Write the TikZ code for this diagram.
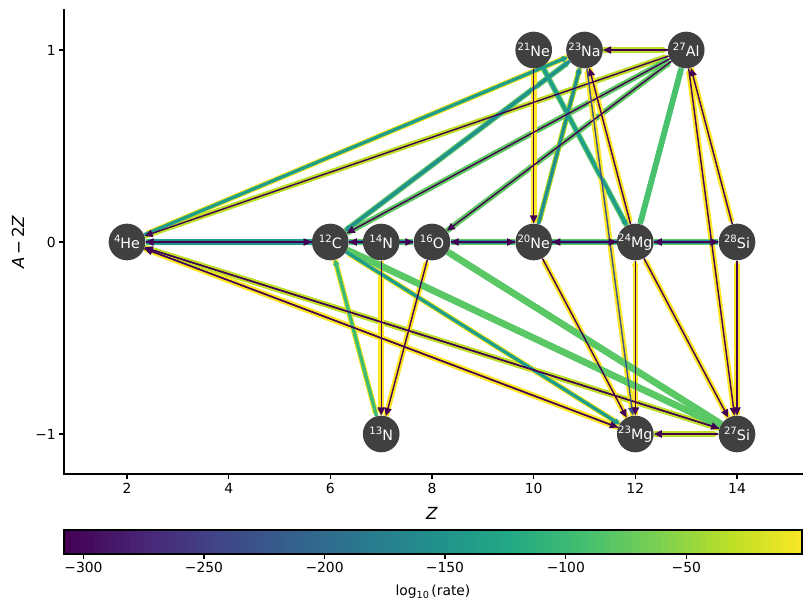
\documentclass[tikz,border=0pt]{standalone}
\usepackage{fontspec}
\setmainfont{DejaVu Sans}
\usetikzlibrary{arrows.meta}
\definecolor{cP}{HTML}{440154}
\definecolor{cB}{HTML}{3B528B}
\definecolor{cT}{HTML}{21918C}
\definecolor{cTT}{HTML}{1F9E89}
\definecolor{cG}{HTML}{5EC962}
\definecolor{cGK}{HTML}{5AC864}
\definecolor{cGA}{HTML}{4AC16D}
\definecolor{cGN}{HTML}{3DBC74}
\definecolor{cYG}{HTML}{BDDF26}
\definecolor{cY}{HTML}{FDE725}
\definecolor{nodegray}{HTML}{404040}
\definecolor{v0}{HTML}{440154}
\definecolor{v1}{HTML}{482475}
\definecolor{v2}{HTML}{414487}
\definecolor{v3}{HTML}{355F8D}
\definecolor{v4}{HTML}{2A788E}
\definecolor{v5}{HTML}{21918C}
\definecolor{v6}{HTML}{22A884}
\definecolor{v7}{HTML}{44BF70}
\definecolor{v8}{HTML}{7AD151}
\definecolor{v9}{HTML}{BDDF26}
\definecolor{v10}{HTML}{FDE725}
\pgfdeclarelayer{bg}
\pgfdeclarelayer{edges}
\pgfsetlayers{bg,edges,main}
\newcommand{\nucl}[2]{\raisebox{4.4pt}{\fontsize{7.6}{8}\selectfont #1}#2}
\tikzset{
  nuc/.style={circle, fill=nodegray, minimum size=27.5pt, inner sep=0pt},
  nlab/.style={text=white, inner sep=0pt, font=\fontsize{10.7}{12}\selectfont},
  eW/.style={line width=4.2pt, -{Triangle[length=5pt,width=5.5pt,round]}},
  eK/.style={line width=4.9pt, -{Triangle[length=5pt,width=6pt,round]}},
  eM/.style={line width=2.6pt, -{Triangle[length=5pt,width=5pt,round]}},
  eT/.style={line width=1.05pt, -{Triangle[length=6pt,width=5.5pt]}},
  lW/.style={line width=4.2pt},
  lM/.style={line width=2.6pt},
  axl/.style={line width=0.85pt, line cap=rect},
  tk/.style={line width=0.85pt},
  tl/.style={font=\fontsize{10.4}{12}\selectfont},
}
\begin{document}
\begin{tikzpicture}[x=0.75pt, y=-0.75pt]
\useasboundingbox (0,0) rectangle (811,611);
\begin{pgfonlayer}{bg}
\fill[white] (0,0) rectangle (811,611);
\end{pgfonlayer}
% nodes
\node[nuc] (He)  at (127,242) {};
\node[nuc] (C)   at (330.3,242) {};
\node[nuc] (Nf)  at (381.2,242) {};
\node[nuc] (O)   at (432,242) {};
\node[nuc] (NeT) at (533.7,242) {};
\node[nuc] (Mg)  at (635.3,242) {};
\node[nuc] (Si)  at (737,242) {};
\node[nuc] (NeO) at (533.7,50) {};
\node[nuc] (Na)  at (584.5,50) {};
\node[nuc] (Al)  at (686.2,50) {};
\node[nuc] (Nt)  at (381.2,434) {};
\node[nuc] (Mgt) at (635.3,434) {};
\node[nuc] (Sit) at (737,434) {};
\node[nlab] (lHe)  at (He)  {\nucl{4}{He}};
\node[nlab] (lC)   at (C)   {\nucl{12}{C}};
\node[nlab] (lNf)  at (Nf)  {\nucl{14}{N}};
\node[nlab] (lO)   at (O)   {\nucl{16}{O}};
\node[nlab] (lNeT) at (NeT) {\nucl{20}{Ne}};
\node[nlab] (lMg)  at (Mg)  {\nucl{24}{Mg}};
\node[nlab] (lSi)  at (Si)  {\nucl{28}{Si}};
\node[nlab] (lNeO) at (NeO) {\nucl{21}{Ne}};
\node[nlab] (lNa)  at (Na)  {\nucl{23}{Na}};
\node[nlab] (lAl)  at (Al)  {\nucl{27}{Al}};
\node[nlab] (lNt)  at (Nt)  {\nucl{13}{N}};
\node[nlab] (lMgt) at (Mgt) {\nucl{23}{Mg}};
\node[nlab] (lSit) at (Sit) {\nucl{27}{Si}};
\begin{pgfonlayer}{edges}
% ---------- wide layer
\draw[eW, cY]  (Na) -- (He);
\draw[eW, cYG] (He) -- (Al);
\draw[eW, cY]  (Mgt) -- (He);
\draw[eW, cY]  (He) -- (Mgt);
\draw[eW, cYG] (Sit) -- (He);
\draw[eW, cYG] (He) -- (Sit);
\draw[eW, cG]  (C) -- (Na);
\draw[eW, cG]  (C) -- (Al);
\draw[eW, cG]  (O) -- (Al);
\draw[eW, cY]  (Mgt) -- (C);
\draw[eW, cY]  (C) -- (Nt);
\draw[eW, cY]  (Nf) -- (Nt);
\draw[eW, cY]  (Nt) -- (O);
\draw[eW, cY]  (NeT) -- (NeO);
\draw[eW, cYG] (Na) -- (NeT);
\draw[eW, cG]  (Mg) -- (NeO);
\draw[eW, cYG] (Na) -- (Al);
\draw[eW, cY]  (Na) -- (Mg);
\draw[eW, cY]  (Mgt) -- (Na);
\draw[eW, cY]  (Al) -- (Si);
\draw[eW, cY]  (Sit) -- (Al);
\draw[eW, cY]  (Mgt) -- (NeT);
\draw[eW, cY]  (Mgt) -- (Mg);
\draw[eW, cY]  (Sit) -- (Mg);
\draw[eW, cY]  (Sit) -- (Si);
\draw[eW, cYG] (Mgt) -- (Sit);
\draw[eW, cGA] (Mg) -- (Al);
\draw[eW, cGA] (Al) -- (Mg);
\draw[eK, cGK] (C) -- (Sit);
\draw[eK, cGK] (Sit) -- (C);
\draw[eK, cGK] (O) -- (Sit);
\draw[eK, cGK] (Sit) -- (O);
% row: blobs then bands
\foreach \l/\r in {He/C, C/O, O/NeT, NeT/Mg, Mg/Si} {
  \draw[eW, cYG] (\l) -- (\r);
  \draw[lW, cG] (\l) -- (\r);
}
\draw[eW, cTT] (C) -- (He);
% ---------- mid layer
\draw[eM, cTT] (He) -- (Na);
\draw[eM, cT]  (Na) -- (C);
\draw[eM, cTT] (C) -- (Mgt);
\draw[eM, cGN] (Nt) -- (C);
\draw[eM, cT]  (NeT) -- (Na);
\draw[eM, cTT] (NeO) -- (Mg);
\foreach \l/\r in {He/C, C/O, O/NeT, NeT/Mg, Mg/Si} {
  \draw[lM, cT] (\l) -- (\r);
}
% ---------- thin layer
\draw[eT, cP] (Al) -- (He);
\draw[eT, cP] (He) -- (Mgt);
\draw[eT, cP] (Mgt) -- (He);
\draw[eT, cP] (He) -- (Sit);
\draw[eT, cP] (Sit) -- (He);
\draw[eT, cP] (Al) -- (C);
\draw[eT, cP] (Al) -- (O);
\draw[eT, cP] (Nf) -- (Nt);
\draw[eT, cP] (O) -- (Nt);
\draw[eT, cP] (NeO) -- (NeT);
\draw[eT, cP] (Al) -- (Na);
\draw[eT, cP] (Mg) -- (Na);
\draw[eT, cB] (Na) -- (Mgt);
\draw[eT, cP] (Si) -- (Al);
\draw[eT, cP] (Al) -- (Sit);
\draw[eT, cP] (NeT) -- (Mgt);
\draw[eT, cP] (Mg) -- (Mgt);
\draw[eT, cP] (Mg) -- (Sit);
\draw[eT, cP] (Si) -- (Sit);
\draw[eT, cP] (Sit) -- (Mgt);
\foreach \l/\r in {He/C, C/O, O/NeT, NeT/Mg, Mg/Si} {
  \draw[eT, cP] (\l) -- (\r);
  \draw[eT, cP] (\r) -- (\l);
}
\end{pgfonlayer}
% ---------- axes
\draw[axl] (64,10) -- (64,474) -- (802,474);
\foreach \y/\t in {50/1, 242/0, 434/{−1}} {
  \draw[tk] (59,\y) -- (64,\y);
  \node[tl, anchor=east, inner sep=0pt] at (56,\y) {\t};
}
\foreach \x/\t in {127/2, 228.7/4, 330.3/6, 432/8, 533.7/10, 635.3/12, 737/14} {
  \draw[tk] (\x,474) -- (\x,479);
  \node[tl, anchor=north, inner sep=0pt] at (\x,483) {\t};
}
\node[rotate=90, font=\fontsize{12.5}{14}\selectfont] (ylab) at (18,242) {\textit{A}\,−\,2\textit{Z}};
\node[font=\fontsize{12.5}{14}\selectfont] (xlab) at (432,513) {\textit{Z}};
% ---------- colorbar
\begin{scope}
\clip (64,530) rectangle (802,554);
\foreach \a/\b [count=\i from 0] in {v0/v1, v1/v2, v2/v3, v3/v4, v4/v5, v5/v6, v6/v7, v7/v8, v8/v9, v9/v10} {
  \foreach \j in {0,...,9} {
    \pgfmathsetmacro\xl{64 + (\i*10+\j)*7.38}
    \fill[fill=\b!\j0!\a] (\xl,529) rectangle ++(7.9,26);
  }
}
\end{scope}
\draw[line width=0.85pt] (64,530) rectangle (802,554);
\foreach \x/\t in {83.5/{−300}, 204/{−250}, 324.6/{−200}, 445/{−150}, 565.8/{−100}, 686.3/{−50}} {
  \draw[tk] (\x,554) -- (\x,559);
  \node[tl, anchor=north, inner sep=0pt] at (\x,562) {\t};
}
\node[tl] (cblab) at (433,592) {log\raisebox{-2.2pt}{\fontsize{7.3}{8}\selectfont 10}\,(rate)};
\end{tikzpicture}
\end{document}
